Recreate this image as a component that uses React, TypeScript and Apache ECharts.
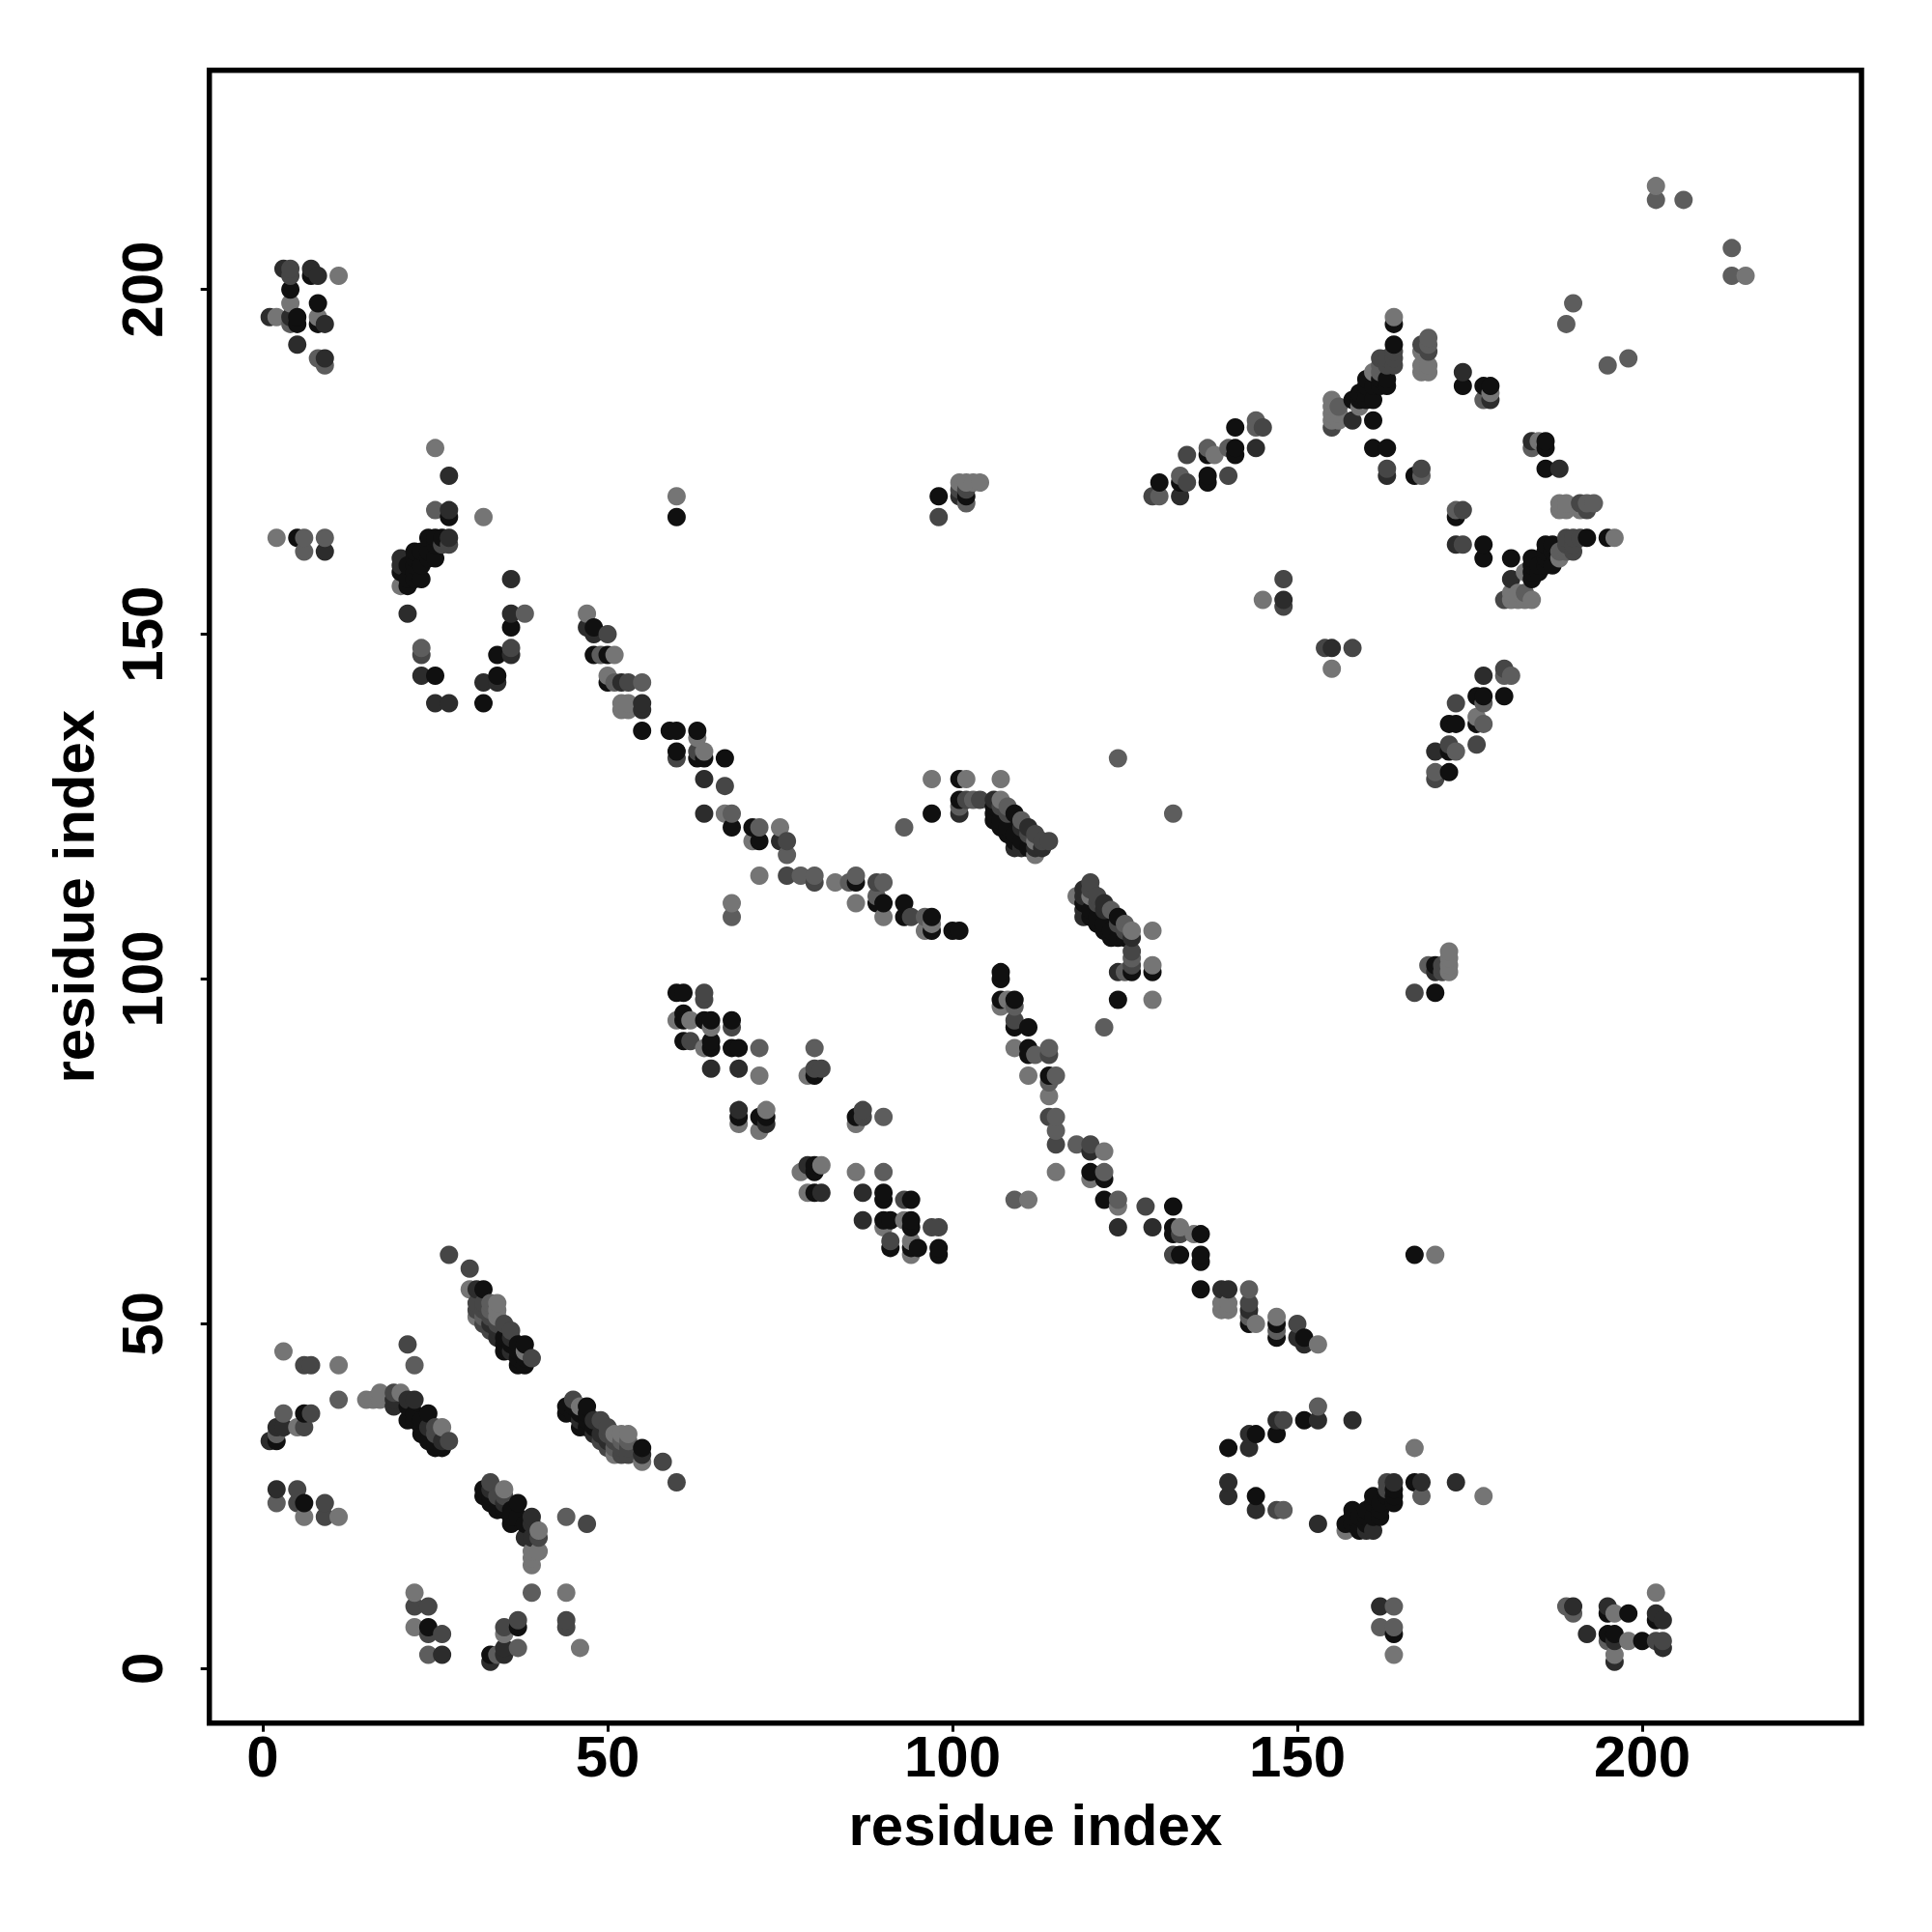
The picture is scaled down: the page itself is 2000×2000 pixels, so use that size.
import React, { useEffect, useRef } from "react";
import * as echarts from "echarts";

type Pair = [number, number];

// Contact pairs grouped by shade; the map is symmetric, so each is drawn at (i,j) and (j,i).
const contactsBlack: Pair[] = [
  [32,55],[37,44],[38,44],[37,45],[38,45],[35,46],[37,46],[35,47],[36,47],[37,47],[38,47],[35,48],
  [21,36],[22,36],[23,36],[22,37],[24,37],[21,38],[23,34],[23,35],[24,33],[25,33],[25,32],[26,32],
  [6,37],[2,33],[6,24],[4,200],[8,198],[5,196],[5,195],[8,195],[5,164],[7,202],
  [24,164],[25,164],[26,164],[22,162],[23,162],[25,161],[22,161],[20,159],[22,160],[23,158],[21,157],[22,158],[21,158],[24,161],[24,162],[23,160],
  [27,167],[36,151],[34,147],[25,144],[34,144],[32,140],[60,167],
  [48,151],[48,147],[50,147],[50,143],[55,136],[59,136],[60,136],[63,136],[60,133],[63,132],[64,132],[67,132],[68,122],[71,122],[72,120],
  [86,114],[89,111],[90,111],[93,111],[93,109],[97,109],[97,107],[100,107],[101,107],[101,129],[97,124],[101,126],
  [61,98],[61,95],[61,94],[64,94],[65,94],[68,94],[61,91],[65,91],[65,90],[68,90],[69,90],[80,86],[69,80],[72,80],[86,80],[80,73],[80,72],[80,69],
  [90,69],[90,68],[94,68],[90,65],[91,65],[94,65],[94,64],[91,61],[94,61],[95,61],[98,61],[98,60],
  [106,123],[106,124],[106,125],[107,122],[107,123],[108,121],[108,122],[109,120],[109,121],[109,124],[110,120],[111,119],
  [122,71],[122,68],[132,67],[132,64],[132,63],[133,60],[136,63],[136,60],[136,59],[147,50],[147,48],[151,48],
  [98,170],[102,170],[130,172],[137,172],[137,173],[137,176],[141,176],[141,177],[141,180],
  [164,195],[164,192],[160,187],[162,187],[163,187],[160,186],[161,186],[162,186],[163,186],[160,185],[160,184],[161,184],[159,184],[161,181],
  [161,177],[163,177],[167,173],[174,186],[177,186],[178,186],[186,178],[186,177],[186,174],
  [192,164],[195,164],[184,160],[185,160],[187,160],[184,161],[186,161],[186,163],[187,163],[184,158],[185,159],[181,161],[177,161],[177,163],
  [172,137],[173,137],[176,137],[176,141],[172,133],[172,130],[180,141],
  [157,21],[158,23],[159,22],[160,21],[161,25],[162,24],[163,25],[164,25],[164,24],[160,23],[161,22],
  [195,5],[196,5],[195,8],[198,8],[200,4],
];

const contactsDark: Pair[] = [
  [31,55],[36,46],[36,48],[34,48],[34,49],[33,50],[22,39],[19,38],[19,39],[21,39],[24,35],[26,33],[2,35],[3,35],[1,33],[2,26],
  [7,203],[9,195],[4,196],[9,162],[27,173],[27,168],[27,164],[20,160],[36,158],[36,153],[36,147],[23,144],[34,143],[32,143],[25,140],[27,140],
  [47,151],[48,150],[52,143],[55,140],[55,139],[64,129],[64,124],[75,120],
  [60,98],[65,87],[69,87],[69,81],[73,79],[79,73],[81,69],[87,69],[87,65],
  [110,119],[111,122],[106,126],[113,119],[110,122],[109,119],[112,119],[119,110],[101,124],
  [124,64],[129,64],[136,55],[140,55],[143,52],[143,50],[150,48],[151,47],
  [158,184],[159,185],[158,181],[178,184],[174,188],[181,158],[163,173],[101,170],[133,172],[133,170],[144,177],[177,141],[170,98],
  [148,155],[5,192],[3,203],[190,9],[192,5],[202,8],[203,7],[196,1],[33,1],[26,2],[35,3],[35,2],[140,25],[144,23],[143,32],[143,34],[144,34],[147,36],[153,36],
  [158,36],[164,27],[168,27],[173,27],[160,20],[161,20],[153,21],
];

const contactsMid: Pair[] = [
  [39,45],[35,50],[36,49],[33,49],[34,50],[33,51],[31,52],[32,52],[31,53],[32,53],[32,50],[19,40],[27,33],[25,34],[25,35],[21,47],[6,44],[7,44],[9,22],[5,26],[5,24],[9,24],[6,35],[27,60],[30,58],[47,21],
  [4,203],[8,202],[1,196],[9,190],[36,148],[23,147],[27,163],[26,163],[21,153],[22,9],[37,7],
  [68,93],[62,91],[80,87],[87,81],[97,64],[98,64],[91,62],[64,97],[94,109],[60,132],[80,114],[89,114],[76,115],
  [113,120],[114,120],[111,121],[112,121],[107,125],[108,124],[102,126],[104,126],[76,120],[128,67],
  [133,63],[139,55],[143,53],[150,50],[102,171],[101,171],[140,173],[145,180],[148,154],[148,158],
  [155,180],[168,192],[169,191],[164,190],[163,189],[164,189],[163,190],[163,174],[168,174],[192,168],[188,174],[173,163],[174,163],[189,164],[190,164],[191,164],[162,190],
  [176,134],[170,133],[170,129],[173,140],[172,134],[167,98],[171,102],[196,4],[203,4],[203,3],[202,4],
];

const contactsSoft: Pair[] = [
  [33,53],[33,52],[32,51],[22,44],[11,39],[2,24],[2,34],[3,37],[7,37],[26,5],[44,7],[44,22],[39,11],
  [4,202],[9,189],[6,162],[9,164],[6,164],[23,148],[38,153],[25,168],
  [49,147],[50,150],[51,143],[53,143],[55,143],[63,133],[67,128],[68,124],[72,122],[76,118],[78,115],[80,115],[86,115],[89,112],[90,114],[68,109],[93,122],
  [64,98],[80,90],[81,87],[90,80],[90,72],
  [101,125],[103,126],[108,125],[110,123],[124,132],[118,76],[115,80],[115,78],[115,86],[109,96],[85,114],
  [143,55],[147,49],[102,169],[134,172],[133,173],[137,177],[140,177],[144,180],[144,181],[189,195],[190,198],[195,189],[198,190],[202,213],[206,213],
  [169,193],[156,183],[162,189],[162,188],[191,169],[192,169],[193,169],[173,168],[177,184],[184,177],[184,178],[190,162],
  [170,130],[177,140],[190,8],[195,4],[202,7],[189,9],
];

const contactsLight: Pair[] = [
  [30,55],[38,46],[34,53],[34,52],[34,51],[31,51],[20,40],[26,35],[17,39],[17,40],[15,39],[16,39],[3,46],[11,44],[11,22],[6,22],[5,35],
  [4,198],[2,196],[4,195],[8,196],[8,190],[2,164],[11,202],[25,177],[32,167],[20,157],[60,170],
  [47,153],[51,147],[50,144],[52,140],[53,140],[52,139],[53,139],[63,135],[64,133],[67,124],[72,115],[83,114],[68,111],[86,111],[90,109],[96,109],[97,108],[96,107],[97,129],[102,129],[107,129],[107,126],[75,122],
  [60,94],[62,94],[65,93],[64,90],[72,90],[72,86],[79,86],[69,79],[73,81],[72,78],[86,79],[81,73],[78,72],[79,69],[86,72],[93,68],[90,64],[93,65],[94,62],[94,60],
  [112,118],[112,120],[71,120],[135,63],[139,53],[140,53],[139,52],[140,52],[144,50],[147,51],[153,47],
  [129,170],[130,170],[134,176],[138,176],[101,172],[102,172],[103,172],[104,172],[169,102],[172,104],[172,103],[172,101],
  [145,155],[164,196],[168,189],[169,189],[168,188],[169,188],[168,191],[155,184],[155,183],[155,182],[155,181],[156,182],[159,183],[161,188],
  [188,169],[189,169],[188,168],[189,168],[196,164],[183,159],[181,155],[182,155],[183,156],[184,155],[181,156],[178,185],[177,137],[173,133],[181,144],[202,215],
  [196,8],[196,2],[198,4],[202,11],
];

const shades = ["#101010", "#2c2c2c", "#464646", "#5d5d5d", "#757575"];
const groups = [contactsBlack, contactsDark, contactsMid, contactsSoft, contactsLight];

const tickValues = [0, 50, 100, 150, 200];
const axisTitle = "residue index";

function buildPoints() {
  const seen = new Map<string, { value: Pair; itemStyle: { color: string } }>();
  groups.forEach((list, g) => {
    list.forEach(([a, b]) => {
      const pairs: Pair[] = [[a, b], [b, a]];
      pairs.forEach((p) => {
        const key = p.join(",");
        if (!seen.has(key)) seen.set(key, { value: p, itemStyle: { color: shades[g] } });
      });
    });
  });
  return Array.from(seen.values()).sort(
    (p, q) => p.value[0] - q.value[0] || p.value[1] - q.value[1]
  );
}

export default function App() {
  const ref = useRef<HTMLDivElement>(null);
  useEffect(() => {
    const chart = echarts.init(ref.current!, undefined, { renderer: "svg" });
    const font = { fontFamily: "Liberation Sans", fontWeight: "bold" as const, color: "#000", fontSize: 60 };
    const tick = { show: true, length: 9, customValues: tickValues, lineStyle: { color: "#000", width: 3 } };
    const line = { show: false, onZero: false };
    chart.setOption({
      animation: false,
      backgroundColor: "#fff",
      grid: { show: false, left: 216.7, right: 2000 - 1927, top: 72.7, bottom: 2000 - 1783.7 },
      xAxis: {
        type: "value", min: -7.75, max: 231.8,
        splitLine: { show: false }, axisLine: line, axisTick: tick,
        axisLabel: { ...font, customValues: tickValues, margin: 5, hideOverlap: false },
        name: axisTitle, nameLocation: "middle", nameGap: 76, nameTextStyle: font,
      },
      yAxis: {
        type: "value", min: -7.9, max: 231.8,
        splitLine: { show: false }, axisLine: line, axisTick: tick,
        axisLabel: { ...font, customValues: tickValues, rotate: 90, margin: 39, hideOverlap: false },
        name: axisTitle, nameLocation: "middle", nameGap: 110, nameTextStyle: font,
      },
      graphic: [{
        type: "rect", z: 10, silent: true,
        shape: { x: 216.7, y: 72.7, width: 1927 - 216.7, height: 1783.7 - 72.7 },
        style: { fill: "none", stroke: "#000", lineWidth: 5.5 },
      }],
      series: [{
        type: "scatter", symbol: "circle", symbolSize: 19, large: false, progressive: 0,
        data: buildPoints(), itemStyle: { opacity: 1 }, silent: true,
      }],
    });
    return () => chart.dispose();
  }, []);
  return <div ref={ref} style={{ position: "absolute", left: 0, top: 0, width: 2000, height: 2000 }} />;
}
